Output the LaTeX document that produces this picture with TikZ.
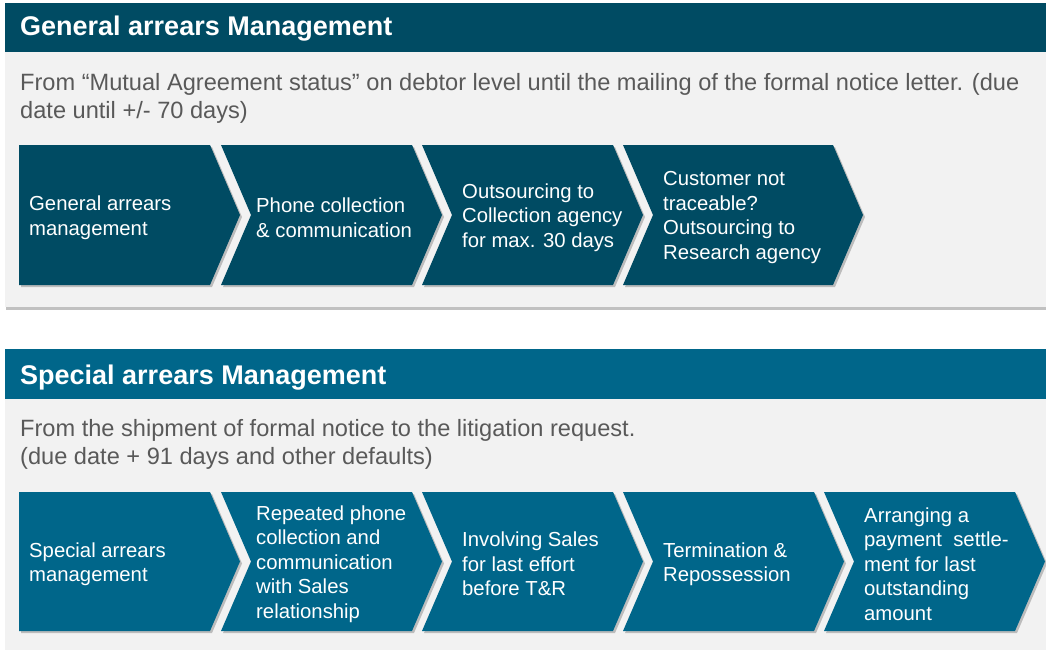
\documentclass[tikz,border=0pt]{standalone}
\usepackage{fontspec}
\setmainfont{Liberation Sans}
\usetikzlibrary{shadows}
\definecolor{darkteal}{HTML}{004B63}
\definecolor{midteal}{HTML}{00668A}
\definecolor{panelgray}{HTML}{F2F2F2}
\definecolor{bodygray}{HTML}{595959}

\begin{document}
\begin{tikzpicture}[x=1pt,y=-1pt,
  panel/.style={fill=panelgray, drop shadow={shadow xshift=0.5pt,shadow yshift=-2.5pt,opacity=0.35,fill=black!70}},
  headtext/.style={anchor=base west, inner sep=0pt, text=white, font=\fontsize{27}{30}\selectfont\bfseries},
  bodytext/.style={anchor=base west, inner sep=0pt, text=bodygray, align=left, font=\fontsize{23.6}{28}\selectfont},
  arrowtext/.style={anchor=west, inner sep=0pt, text=white, align=left, font=\fontsize{20.3}{24.5}\selectfont},
  chev/.style={drop shadow={shadow xshift=2pt,shadow yshift=-2pt,opacity=0.22,fill=black}}
]
\useasboundingbox (0,0) rectangle (1046,650);

% ---------- General arrears panel ----------
\path[panel] (5,3) rectangle (1046,307);
\fill[darkteal] (5,3) rectangle (1046,52);
\node[headtext] (genhead) at (20,36) {General arrears Management};
% base anchor of a two-line node sits on its last line
\node[bodytext] (gendesc) at (20,118) {From “Mutual Agreement status” on debtor level until the mailing of the formal notice letter. (due\\date until +/- 70 days)};

% first chevron has a flat tail, the others are notched; the last one is wider
\path[chev, fill=darkteal] (19,145) -- (210,145) -- (240,215) -- (210,285) -- (19,285) -- cycle;
\foreach \l in {221,422}{
  \path[chev, fill=darkteal] (\l,145) -- (\l+191,145) -- (\l+221,215) -- (\l+191,285) -- (\l,285) -- (\l+30,215) -- cycle;
}
\path[chev, fill=darkteal] (623,145) -- (833,145) -- (863,215) -- (833,285) -- (623,285) -- (653,215) -- cycle;
\node[arrowtext] (g1) at (29,217.5)  {General arrears\\management};
\node[arrowtext] (g2) at (256,217.5) {Phone collection\\\& communication};
\node[arrowtext] (g3) at (462,217.5) {Outsourcing to\\Collection agency\\for max. 30 days};
\node[arrowtext] (g4) at (663,217.5) {Customer not\\traceable?\\Outsourcing to\\Research agency};

% ---------- Special arrears panel ----------
\path[panel] (5,349) rectangle (1046,652);
\fill[midteal] (5,349) rectangle (1046,399);
\node[headtext] (spehead) at (20,384) {Special arrears Management};
\node[bodytext] (spedesc) at (20,464) {From the shipment of formal notice to the litigation request.\\(due date + 91 days and other defaults)};

\path[chev, fill=midteal] (19,492) -- (210,492) -- (240,561.5) -- (210,631) -- (19,631) -- cycle;
\foreach \l in {221,422,623,824}{
  \path[chev, fill=midteal] (\l,492) -- (\l+191,492) -- (\l+221,561.5) -- (\l+191,631) -- (\l,631) -- (\l+30,561.5) -- cycle;
}
\node[arrowtext] (s1) at (29,564)  {Special arrears\\management};
\node[arrowtext] (s2) at (256,564) {Repeated phone\\collection and\\communication\\with Sales\\relationship};
\node[arrowtext] (s3) at (462,564) {Involving Sales\\for last effort\\before T\&R};
\node[arrowtext] (s4) at (663,564) {Termination \&\\Repossession};
\node[arrowtext] (s5) at (864,564) {Arranging a\\payment\ \ settle-\\ment for last\\outstanding\\amount};
\end{tikzpicture}
\end{document}
